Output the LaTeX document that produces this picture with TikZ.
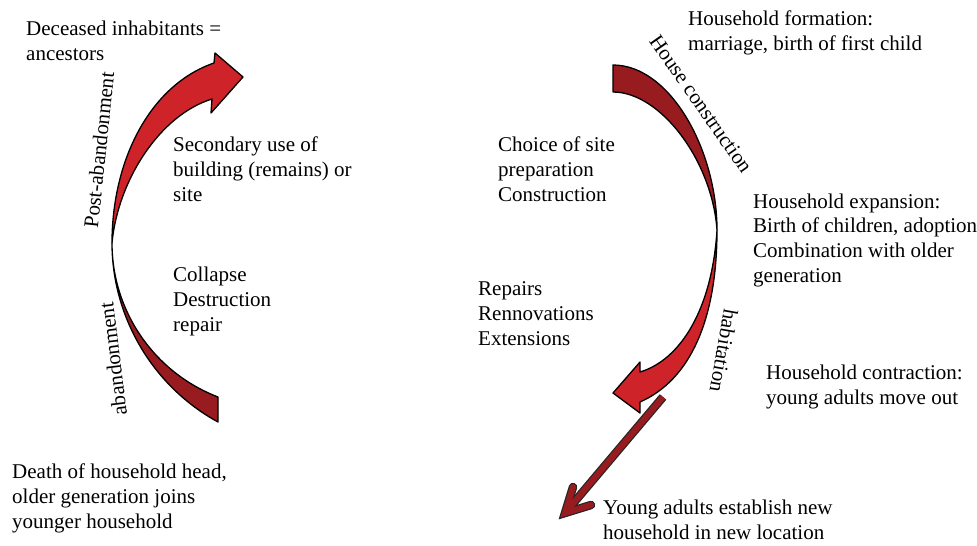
\documentclass[tikz,border=0pt]{standalone}
\usepackage{fontspec}
\setmainfont{Liberation Serif}
\definecolor{brightred}{RGB}{206,36,41}
\definecolor{deepred}{RGB}{152,27,32}
\begin{document}
\begin{tikzpicture}[x=1pt,y=-1pt,
  lbl/.style={anchor=base west, inner sep=0pt, align=left, font=\fontsize{21}{24.6}\selectfont},
  rlbl/.style={inner sep=0pt, font=\fontsize{21}{24.6}\selectfont},
  piece/.style={draw=black, line width=1.3pt, line join=round}]
\useasboundingbox (0,0) rectangle (977,546);
\fill[white] (0,0) rectangle (977,546);

% left cycle
\path[piece, fill=deepred] (112,243) .. controls (112,317) and (152.7,386.3) .. (218,422) -- (218,397) .. controls (154.3,372.5) and (112,311.3) .. (112,243) -- cycle;
\path[piece, fill=brightred] (112,243) .. controls (112,160) and (150,85) .. (214,63) -- (215,53) -- (243,77) -- (211,113) -- (212,99) .. controls (160,115) and (118,180) .. (112,243) -- cycle;

% right cycle
\path[piece, fill=deepred] (613,65) .. controls (670,65) and (717,150) .. (717,230) .. controls (712,160) and (660,92) .. (613,92) -- cycle;
\path[piece, fill=brightred] (717,230) .. controls (717,320) and (690,380) .. (640,402) -- (640,413) -- (613,393) -- (640,362) -- (640,372) .. controls (680,360) and (712,310) .. (717,230) -- cycle;

% straight arrow
\coordinate (sa) at (663,397);
\coordinate (sb) at (565,513);
\coordinate (b1) at (573,487);
\coordinate (b2) at (591,505);
\draw[line width=8.5pt, black!85] (sa) -- (sb);
\draw[line width=8.5pt, black!85, line cap=round, line join=miter] (b1) -- (sb) -- (b2);
\draw[line width=6pt, deepred] (sa) -- (sb);
\draw[line width=6pt, deepred, line cap=round, line join=miter] (b1) -- (sb) -- (b2);

% labels left (anchor at the baseline of the last line)
\node[lbl] (anc) at (26,60) {Deceased inhabitants =\\ancestors};
\node[lbl] (sec) at (173,201) {Secondary use of\\building (remains) or\\site};
\node[lbl] (col) at (173,331) {Collapse\\Destruction\\repair};
\node[lbl] (death) at (12,528) {Death of household head,\\older generation joins\\younger household};
\node[rlbl, rotate=84] (post) at (99,150) {Post-abandonment};
\node[rlbl, rotate=97] (aban) at (113,359) {abandonment};

% labels right
\node[lbl] (form) at (688,50) {Household formation:\\marriage, birth of first child};
\node[lbl] (site) at (498,201) {Choice of site\\preparation\\Construction};
\node[lbl] (exp) at (753,282) {Household expansion:\\Birth of children, adoption\\Combination with older\\generation};
\node[lbl] (rep) at (478,345) {Repairs\\Rennovations\\Extensions};
\node[lbl] (con) at (766,404) {Household contraction:\\young adults move out};
\node[lbl] (young) at (603,539) {Young adults establish new\\household in new location};
\node[rlbl, rotate=-55] (hc) at (701,104) {House construction};
\node[rlbl, rotate=-100] (hab) at (724,351) {habitation};
\end{tikzpicture}
\end{document}
